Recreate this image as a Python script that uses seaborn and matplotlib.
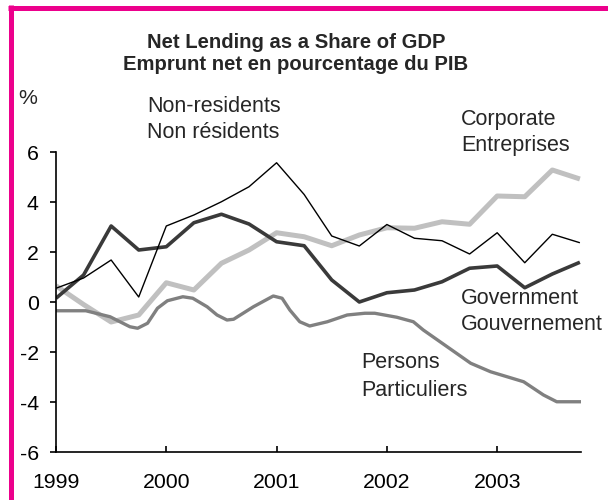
import matplotlib
matplotlib.use("Agg")
import matplotlib.pyplot as plt
from matplotlib.lines import Line2D
import numpy as np
import pandas as pd
import seaborn as sns

# Quarterly observations, 1999Q1 .. 2003Q4 (plotted at the start of each quarter)
quarters = [1999.00, 1999.25, 1999.50, 1999.75,
            2000.00, 2000.25, 2000.50, 2000.75,
            2001.00, 2001.25, 2001.50, 2001.75,
            2002.00, 2002.25, 2002.50, 2002.75,
            2003.00, 2003.25, 2003.50, 2003.75]

non_residents = [0.55, 0.96, 1.68, 0.20, 3.04, 3.48, 4.01, 4.61, 5.57, 4.30,
                 2.64, 2.24, 3.10, 2.55, 2.45, 1.92, 2.77, 1.57, 2.71, 2.37]
government = [0.15, 1.08, 3.04, 2.08, 2.21, 3.17, 3.51, 3.12, 2.41, 2.25,
              0.88, 0.00, 0.37, 0.48, 0.81, 1.35, 1.44, 0.57, 1.12, 1.59]
corporate = [0.65, -0.10, -0.80, -0.52, 0.77, 0.48, 1.55, 2.08, 2.77, 2.61,
             2.25, 2.68, 2.97, 2.95, 3.21, 3.11, 4.24, 4.21, 5.28, 4.92]

# Persons series is published on a finer (roughly monthly) grid
persons_dates = [1999.00, 1999.27, 1999.49, 1999.67, 1999.74, 1999.83, 1999.92,
                 2000.01, 2000.15, 2000.24, 2000.37, 2000.46, 2000.55, 2000.61,
                 2000.79, 2000.97, 2001.05, 2001.12, 2001.21, 2001.30, 2001.46,
                 2001.64, 2001.80, 2001.89, 2002.09, 2002.24, 2002.33, 2002.76,
                 2002.94, 2003.24, 2003.42, 2003.54, 2003.76]
persons = [-0.35, -0.35, -0.59, -0.99, -1.05, -0.85, -0.25,
           0.05, 0.21, 0.15, -0.19, -0.52, -0.72, -0.69,
           -0.19, 0.24, 0.15, -0.32, -0.79, -0.96, -0.79,
           -0.52, -0.45, -0.45, -0.61, -0.79, -1.12, -2.45,
           -2.79, -3.19, -3.72, -3.99, -3.99]

year_ticks = [1999, 2000, 2001, 2002, 2003]
y_ticks = [-6, -4, -2, 0, 2, 4, 6]

title_en = "Net Lending as a Share of GDP"
title_fr = "Emprunt net en pourcentage du PIB"

sns.set_style("ticks")
plt.rcParams["font.family"] = ["Liberation Sans", "DejaVu Sans"]
plt.rcParams["font.size"] = 15

W, H = 608, 500
fig = plt.figure(figsize=(W / 100, H / 100), dpi=100)
fig.patch.set_facecolor("white")


def fx(px):
    return px / W


def fy(py):
    return 1 - py / H


ax = fig.add_axes([fx(56), fy(452), fx(581) - fx(56), fy(152) - fy(452)])

quarterly = pd.DataFrame({"date": quarters,
                          "Non-residents": non_residents,
                          "Government": government,
                          "Corporate": corporate})
persons_df = pd.DataFrame({"date": persons_dates, "Persons": persons})

common = dict(ax=ax, legend=False, solid_joinstyle="round", solid_capstyle="butt")
sns.lineplot(data=quarterly, x="date", y="Corporate", color="#c0c0c0", lw=3.6, **common)
sns.lineplot(data=persons_df, x="date", y="Persons", color="#808080", lw=2.4, **common)
sns.lineplot(data=quarterly, x="date", y="Government", color="#3a3a3a", lw=2.6, **common)
sns.lineplot(data=quarterly, x="date", y="Non-residents", color="#000000", lw=1.0, **common)

ax.set_xlim(1999, 2003.76)
ax.set_ylim(-6, 6)
ax.set_xticks(year_ticks)
ax.set_xticklabels([str(y) for y in year_ticks])
ax.set_yticks(y_ticks)
ax.set_yticklabels([str(v) for v in y_ticks])
ax.set_xlabel("")
ax.set_ylabel("")
ax.set_facecolor("white")
ax.grid(False)
for side in ("top", "right"):
    ax.spines[side].set_visible(False)
for side in ("left", "bottom"):
    ax.spines[side].set_color("black")
    ax.spines[side].set_linewidth(1.2)
ax.tick_params(axis="x", direction="in", length=4.5, width=1.2, pad=15,
               labelsize=15.3, colors="black")
ax.tick_params(axis="y", direction="out", length=4.5, width=1.2, pad=8,
               labelsize=15.3, colors="black")

# Titles
fig.text(fx(296), fy(42), title_en, ha="center", va="center",
         fontsize=14.6, fontweight="bold")
fig.text(fx(296), fy(64), title_fr, ha="center", va="center",
         fontsize=14.6, fontweight="bold")
fig.text(fx(18), fy(99), "%", ha="left", va="center", fontsize=15.3)

# Series labels
labels = [
    (147, 106, "Non-residents"), (147, 133, "Non résidents"),
    (461, 119, "Corporate"), (461, 146, "Entreprises"),
    (461, 298, "Government"), (461, 325, "Gouvernement"),
    (361, 363, "Persons"), (361, 391, "Particuliers"),
]
for x, y, s in labels:
    fig.text(fx(x), fy(y), s, ha="left", va="center", fontsize=15.5)

# Magenta frame
frame_col = "#ec008c"
fig.add_artist(Line2D([fx(8), fx(608)], [fy(7.5), fy(7.5)], color=frame_col,
                      lw=3.6, solid_capstyle="butt", transform=fig.transFigure))
fig.add_artist(Line2D([fx(10.7), fx(10.7)], [fy(5), fy(500)], color=frame_col,
                      lw=3.6, solid_capstyle="butt", transform=fig.transFigure))

fig.savefig("out.png", dpi=100, facecolor="white")
